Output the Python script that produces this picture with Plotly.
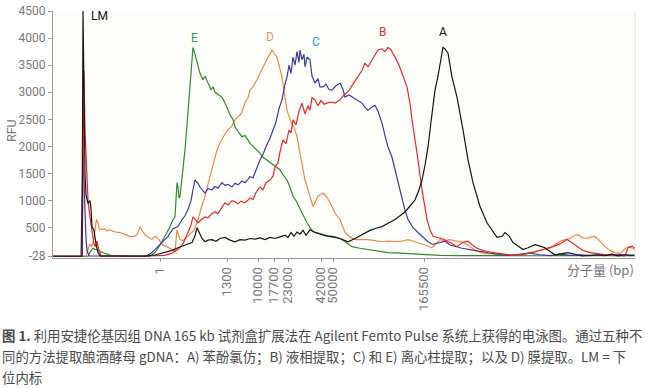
import plotly.graph_objects as go

# ---------------- data (migration position, RFU) ----------------
tick_pos = [160, 227, 258, 274, 288, 321, 333, 424]
tick_labels = ["1", "1300", "10000", "17700", "23000", "42000", "50000", "165500"]
y_ticks = [-28, 500, 1000, 1500, 2000, 2500, 3000, 3500, 4000, 4500]

black_x = [53, 80, 82, 83, 84, 85, 86, 88, 90, 91, 92, 94, 96, 98, 100, 130, 145, 155, 165, 172, 178, 185, 192, 195, 197, 199, 202, 205, 208, 212, 216, 220, 225, 230, 235, 240, 245, 250, 255, 260, 265, 270, 275, 280, 285, 288, 291, 294, 297, 300, 303, 306, 310, 314, 318, 322, 326, 330, 335, 340, 348, 355, 360, 365, 370, 376, 382, 388, 395, 400, 405, 410, 415, 419, 422, 425, 428, 431, 435, 438, 441, 443, 445, 448, 452, 457, 463, 468, 473, 480, 487, 492, 497, 502, 505, 509, 513, 518, 523, 528, 535, 540, 545, 550, 555, 562, 568, 575, 582, 590, 598, 605, 612, 618, 625, 632, 635]
black_y = [-28, -28, -28, 4500, 2500, 1500, 1100, 950, 1000, 850, 520, 450, 200, 40, -20, -28, -25, -5, 40, 80, 130, 180, 225, 350, 500, 420, 300, 240, 270, 280, 250, 300, 320, 270, 240, 280, 270, 300, 290, 310, 280, 320, 300, 330, 360, 320, 410, 340, 420, 380, 450, 360, 460, 420, 390, 370, 350, 340, 320, 300, 240, 300, 350, 410, 450, 490, 520, 580, 650, 720, 790, 900, 1010, 1200, 1380, 1650, 1990, 2450, 3040, 3300, 3650, 3830, 3800, 3720, 3280, 2910, 2305, 1750, 1330, 890, 590, 450, 320, 340, 410, 350, 225, 160, 95, 130, 185, 160, 130, 60, 0, 20, 40, 10, -20, -10, 0, -15, 10, -20, 0, -10, -5]

red_x = [53, 80, 82, 83, 84, 85, 86, 87, 88, 90, 92, 94, 95, 97, 99, 101, 140, 155, 165, 172, 178, 183, 188, 191, 193, 196, 198, 201, 205, 208, 212, 215, 218, 222, 225, 228, 232, 235, 238, 241, 245, 248, 250, 253, 256, 260, 263, 266, 270, 273, 275, 278, 280, 283, 286, 289, 291, 293, 296, 299, 302, 305, 308, 310, 312, 315, 318, 321, 324, 327, 331, 335, 340, 344, 348, 353, 358, 362, 365, 368, 372, 378, 382, 385, 388, 391, 395, 399, 402, 407, 410, 412, 417, 422, 427, 430, 433, 437, 443, 450, 457, 463, 468, 472, 477, 483, 487, 497, 505, 513, 525, 535, 545, 553, 560, 567, 572, 577, 583, 590, 600, 610, 620, 625, 628, 632, 635]
red_y = [-28, -28, -28, 1200, 3400, 2300, 1800, 1500, 1000, 700, 410, 200, 150, 250, 80, -20, -28, -25, -10, 30, 95, 200, 410, 550, 700, 640, 590, 640, 700, 680, 760, 790, 760, 880, 960, 920, 1000, 980, 940, 990, 960, 1010, 1050, 1020, 1150, 1250, 1200, 1330, 1380, 1450, 1620, 1700, 1900, 2120, 2050, 2300, 2250, 2490, 2400, 2650, 2800, 2600, 2750, 2670, 2900, 2860, 2750, 2850, 2780, 2800, 2820, 2800, 2860, 2950, 3010, 3150, 3280, 3400, 3540, 3470, 3600, 3780, 3800, 3750, 3830, 3780, 3650, 3500, 3350, 3100, 2800, 2490, 1880, 1200, 650, 460, 340, 320, 290, 225, 150, 230, 250, 185, 120, 80, 60, 30, 10, -10, 10, 50, 110, 150, 200, 280, 220, 150, 80, 40, 10, -10, -15, -20, 130, 160, 120]

blue_x = [53, 81, 83, 84, 85, 86, 87, 89, 140, 147, 152, 158, 163, 168, 173, 178, 182, 185, 188, 191, 193, 195, 198, 200, 203, 205, 208, 212, 215, 218, 222, 225, 228, 232, 235, 238, 242, 245, 248, 250, 253, 256, 260, 263, 266, 270, 273, 276, 279, 282, 285, 287, 289, 291, 293, 295, 297, 299, 300, 302, 304, 305, 307, 310, 312, 315, 318, 320, 323, 326, 329, 332, 336, 340, 343, 345, 349, 353, 358, 362, 365, 368, 372, 375, 378, 382, 385, 388, 392, 395, 398, 402, 405, 408, 413, 418, 423, 428, 433, 440, 445, 450, 455, 462, 470, 480, 490, 500, 510, 520, 530, 540, 550, 560, 570, 580, 590, 600, 610, 620, 630, 635]
blue_y = [-28, -28, 1900, 1400, 700, 300, 80, -20, -28, -20, 40, 150, 250, 340, 480, 520, 650, 720, 840, 1000, 1200, 1380, 1320, 1250, 1180, 1140, 1220, 1200, 1260, 1230, 1330, 1280, 1300, 1250, 1320, 1290, 1360, 1330, 1390, 1440, 1420, 1560, 1750, 1850, 2000, 2150, 2305, 2450, 2700, 2860, 3150, 3280, 3500, 3350, 3650, 3500, 3750, 3550, 3780, 3600, 3700, 3470, 3650, 3600, 3300, 3170, 3250, 3100, 3100, 3150, 3050, 3040, 3120, 3170, 3050, 2910, 2950, 2900, 2850, 2800, 2720, 2670, 2730, 2760, 2650, 2430, 2200, 1990, 1800, 1570, 1300, 1016, 820, 650, 500, 410, 320, 240, 190, 220, 250, 180, 150, 120, 95, 60, 30, 0, -10, 10, 30, 0, -15, 10, -10, 0, -15, -5, -10, 5, -15, -10]

orange_x = [53, 86, 88, 90, 92, 94, 96, 97, 99, 101, 104, 107, 110, 113, 116, 120, 124, 128, 131, 134, 137, 139, 140, 142, 145, 148, 152, 155, 157, 160, 163, 167, 171, 175, 177, 178, 180, 183, 187, 190, 194, 198, 201, 205, 208, 212, 215, 218, 221, 224, 228, 232, 235, 238, 241, 245, 248, 250, 253, 257, 260, 263, 266, 268, 270, 272, 274, 277, 279, 282, 285, 287, 290, 292, 295, 297, 300, 302, 305, 308, 310, 313, 316, 318, 323, 327, 330, 333, 335, 340, 345, 350, 355, 362, 368, 375, 382, 390, 395, 402, 408, 413, 418, 425, 432, 436, 440, 445, 450, 457, 463, 470, 477, 485, 495, 505, 515, 525, 535, 545, 550, 555, 560, 565, 570, 574, 578, 582, 586, 590, 595, 600, 605, 610, 615, 620, 625, 629, 632, 635]
orange_y = [-28, -28, 100, 200, 150, 300, 600, 650, 500, 460, 480, 440, 460, 430, 420, 410, 380, 350, 330, 340, 370, 460, 520, 450, 370, 330, 280, 340, 320, 250, 180, 150, 100, 60, 460, 410, 280, 260, 340, 380, 450, 650, 850, 1080, 1300, 1620, 1800, 1990, 2100, 2200, 2305, 2380, 2490, 2550, 2600, 2800, 2900, 3040, 3100, 3230, 3350, 3470, 3580, 3650, 3700, 3780, 3720, 3650, 3500, 3280, 2900, 2670, 2500, 2430, 2300, 2180, 1900, 1690, 1380, 1200, 1080, 890, 1000, 1080, 1140, 1060, 960, 850, 770, 650, 410, 330, 280, 280, 280, 260, 240, 250, 240, 250, 280, 250, 225, 180, 130, 200, 280, 260, 280, 250, 230, 150, 60, 20, 10, 0, -10, 20, 60, 95, 120, 185, 250, 280, 300, 350, 370, 320, 300, 320, 340, 250, 150, 80, 40, 20, 110, 150, 120, 100]

green_x = [53, 88, 90, 93, 95, 97, 100, 103, 108, 112, 150, 155, 160, 164, 167, 170, 173, 175, 176, 177, 178, 179, 180, 182, 185, 187, 190, 192, 193, 195, 198, 200, 203, 205, 208, 211, 213, 215, 218, 222, 225, 228, 231, 233, 235, 238, 242, 245, 248, 250, 253, 256, 260, 263, 266, 270, 273, 276, 280, 283, 287, 290, 293, 296, 300, 303, 307, 310, 313, 318, 323, 328, 333, 340, 346, 352, 360, 368, 378, 388, 400, 410, 420, 430, 440, 460, 480, 500, 520, 540, 560, 580, 600, 620, 635]
green_y = [-28, -28, 50, 120, 100, 95, 60, 40, 10, -20, -28, 40, 180, 300, 410, 520, 650, 700, 1100, 1330, 1250, 1050, 1080, 1400, 1936, 2400, 3100, 3550, 3830, 3700, 3470, 3350, 3230, 3300, 3170, 3050, 3100, 3000, 2960, 2910, 2800, 2670, 2550, 2500, 2360, 2280, 2180, 2200, 2100, 2060, 2000, 1950, 1880, 1800, 1760, 1690, 1650, 1620, 1570, 1480, 1380, 1250, 1080, 1000, 840, 720, 590, 500, 430, 400, 370, 350, 340, 300, 230, 150, 120, 95, 70, 40, 30, 20, 10, 0, -10, -15, -18, -20, -15, -18, -15, -20, -18, -15, -15]

series = [
    ("D", orange_x, orange_y, "#f0874a"),
    ("E", green_x, green_y, "#2e8b2e"),
    ("C", blue_x, blue_y, "#3b3ba6"),
    ("B", red_x, red_y, "#e8282b"),
    ("A", black_x, black_y, "#151515"),
]

# ---------------- figure ----------------
W, H = 650, 388
ML, MR, MT, MB = 53, 15, 11, 130
PW, PH = W - ML - MR, H - MT - MB


def px(x):
    return (x - ML) / PW


def py(y):
    return (H - MB - y) / PH


fig = go.Figure()
for name, xs, ys, col in series:
    fig.add_trace(go.Scatter(x=xs, y=ys, mode="lines", name=name,
                             line=dict(color=col, width=1.2), showlegend=False,
                             hoverinfo="skip"))

label_font = "Roboto, Arial, sans-serif"
peak_labels = [
    ("LM", 89, 16, "#111111", "left"),
    ("E", 194, 38, "#2a9a6a", "center"),
    ("D", 270, 37, "#e9955a", "center"),
    ("C", 316, 42, "#27a3c6", "center"),
    ("B", 382, 32, "#e0303a", "center"),
    ("A", 443, 32, "#111111", "center"),
]
for txt, x0, y0, col, anc in peak_labels:
    fig.add_annotation(x=px(x0), y=py(y0), xref="paper", yref="paper", text=txt,
                       showarrow=False, xanchor=anc, yanchor="middle",
                       font=dict(family=label_font, size=12, color=col))

fig.add_annotation(x=px(11), y=py(131), xref="paper", yref="paper", text="RFU",
                   textangle=-90, showarrow=False, xanchor="center", yanchor="middle",
                   font=dict(family=label_font, size=12.5, color="#777777"))
fig.add_annotation(x=px(636), y=py(269), xref="paper", yref="paper",
                   text="分子量 (bp)", showarrow=False, xanchor="right", yanchor="middle",
                   font=dict(family="Noto Sans CJK SC", size=13, color="#777777"))

cap_font = dict(family="Noto Sans CJK SC", size=13.4, color="#4a4a4a")
captions = [
    "<b>图 1.</b> 利用安捷伦基因组 DNA 165 kb 试剂盒扩展法在 Agilent Femto Pulse 系统上获得的电泳图。通过五种不",
    "同的方法提取酿酒酵母 gDNA：A) 苯酚氯仿；B) 液相提取；C) 和 E) 离心柱提取；以及 D) 膜提取。LM = 下",
    "位内标",
]
for i, line in enumerate(captions):
    fig.add_annotation(x=px(0), y=py(335 + 21 * i), xref="paper", yref="paper",
                       text=line, showarrow=False, xanchor="left", yanchor="middle",
                       font=cap_font)

# light right border of plot area
fig.add_shape(type="line", xref="paper", yref="paper", x0=1, x1=1, y0=0, y1=1,
              line=dict(color="#e4e4e0", width=1))

fig.update_layout(
    width=W, height=H,
    margin=dict(l=ML, r=MR, t=MT, b=MB, autoexpand=False),
    paper_bgcolor="white",
    plot_bgcolor="#fdfdfa",
    xaxis=dict(range=[ML, W - MR], tickmode="array", tickvals=tick_pos,
               ticktext=tick_labels, tickangle=-90, ticks="outside", ticklen=3,
               tickcolor="#999", showgrid=False, zeroline=False, showline=True,
               linecolor="#999", linewidth=1, automargin=False,
               tickfont=dict(family=label_font, size=13, color="#777777")),
    yaxis=dict(range=[-60, 4500], tickmode="array", tickvals=y_ticks,
               ticktext=[str(v) for v in y_ticks], ticks="outside", ticklen=4,
               tickcolor="#999", showgrid=False, zeroline=False, showline=True,
               linecolor="#999", linewidth=1, automargin=False,
               tickfont=dict(family=label_font, size=12, color="#777777")),
)

fig.write_html("out.html", config={"displayModeBar": False},
               post_script="document.body.style.margin='0';document.body.style.padding='0';")
